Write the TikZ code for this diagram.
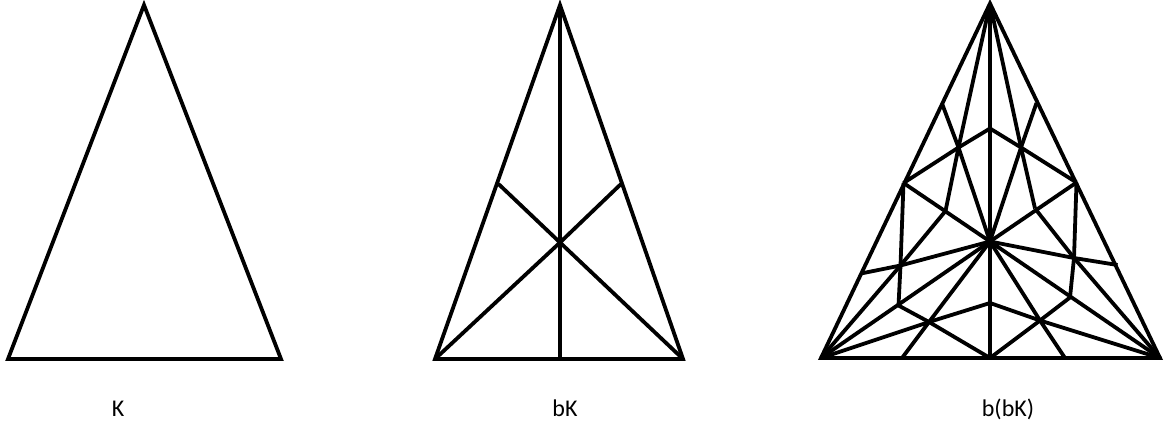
\documentclass[tikz,border=0pt]{standalone}
\usepackage{fontspec}
\setmainfont{Carlito}
\begin{document}
\begin{tikzpicture}[x=1pt,y=-1pt,
  edge/.style={line width=3.8pt, line join=miter, line cap=butt},
  lbl/.style={font=\fontsize{24}{28}\selectfont, inner sep=0pt, anchor=base}]
\useasboundingbox (0,0) rectangle (1167,425);
% ---------- K ----------
\coordinate (KA) at (144,5);
\coordinate (KB) at (8,359);
\coordinate (KC) at (281,359);
\draw[edge] (KA) -- (KB) -- (KC) -- cycle;
\node[lbl] (labK) at (118,416) {K};
% ---------- bK ----------
\coordinate (PA) at (560,5);
\coordinate (PB) at (435,359);
\coordinate (PC) at (683,359);
\coordinate (PAB) at (498.5,184);
\coordinate (PAC) at (621,184);
\coordinate (PBC) at (560,359);
\coordinate (PG) at (560,242.5);
\draw[edge] (PA) -- (PB) -- (PC) -- cycle;
\draw[edge] (PA) -- (PG) -- (PBC);
\draw[edge] (PAB) -- (PG) -- (PC);
\draw[edge] (PAC) -- (PG) -- (PB);
\node[lbl] (labbK) at (565,416) {bK};
% ---------- b(bK) ----------
\coordinate (A) at (990,3.5);
\coordinate (B) at (821,358);
\coordinate (C) at (1160,358);
\coordinate (G) at (990,241.5);
\coordinate (Mab) at (903.5,183);
\coordinate (Mac) at (1076.5,182.5);
\coordinate (Mbc) at (990,358);
% T1 (A,Mab,G)
\coordinate (mAMab) at (942,103.5);
\coordinate (mAG) at (990,128.5);
\coordinate (mMabG) at (945.5,211);
\coordinate (c1) at (958.5,147.5);
% T2 (A,Mac,G)
\coordinate (mAMac) at (1036.5,103);
\coordinate (mMacG) at (1035,208.5);
\coordinate (c2) at (1021,147.5);
% T3 (B,Mab,G)
\coordinate (mBMab) at (861,273.5);
\coordinate (mBG) at (898.5,305.5);
\coordinate (c3) at (900.5,265.5);
% T4 (B,Mbc,G)
\coordinate (mBMbc) at (902,358);
\coordinate (mGMbc) at (990,303);
\coordinate (c4) at (929,322);
% T5 (C,Mbc,G)
\coordinate (mCMbc) at (1065,358);
\coordinate (mCG) at (1070,297.5);
\coordinate (c5) at (1040,320.5);
% T6 (C,Mac,G)
\coordinate (mCMac) at (1117.5,265);
\coordinate (c6) at (1074,258);
% outer triangle and big medians
\draw[edge] (A) -- (B) -- (C) -- cycle;
\draw[edge] (A) -- (Mbc);
\draw[edge] (B) -- (G) -- (Mac);
\draw[edge] (C) -- (G) -- (Mab);
% small medians
\draw[edge] (A) -- (c1) -- (mMabG);
\draw[edge] (Mab) -- (c1) -- (mAG);
\draw[edge] (G) -- (c1) -- (mAMab);
\draw[edge] (A) -- (c2) -- (mMacG);
\draw[edge] (Mac) -- (c2) -- (mAG);
\draw[edge] (G) -- (c2) -- (mAMac);
\draw[edge] (B) -- (c3) -- (mMabG);
\draw[edge] (Mab) -- (c3) -- (mBG);
\draw[edge] (G) -- (c3) -- (mBMab);
\draw[edge] (B) -- (c4) -- (mGMbc);
\draw[edge] (Mbc) -- (c4) -- (mBG);
\draw[edge] (G) -- (c4) -- (mBMbc);
\draw[edge] (C) -- (c5) -- (mGMbc);
\draw[edge] (Mbc) -- (c5) -- (mCG);
\draw[edge] (G) -- (c5) -- (mCMbc);
\draw[edge] (C) -- (c6) -- (mMacG);
\draw[edge] (Mac) -- (c6) -- (mCG);
\draw[edge] (G) -- (c6) -- (mCMac);
\node[lbl] (labbbK) at (1008,416) {b(bK)};
\end{tikzpicture}
\end{document}
